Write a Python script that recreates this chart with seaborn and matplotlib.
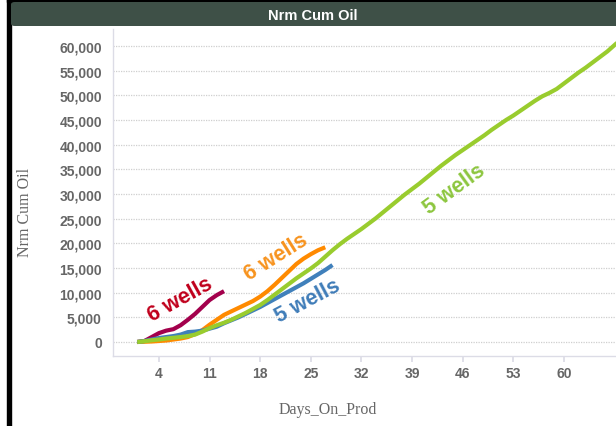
import matplotlib
matplotlib.use("Agg")
import matplotlib.pyplot as plt
from matplotlib.patches import FancyBboxPatch, Rectangle
import seaborn as sns
import pandas as pd

# Normalised cumulative oil by days on production, one curve per well group
days_red = list(range(1, 14))
oil_red = [0, 200, 1000, 1800, 2300, 2600, 3400, 4500, 5700, 7100, 8500, 9500, 10300]

days_orange = list(range(1, 28))
oil_orange = [0, 50, 100, 200, 300, 500, 700, 1000, 1600, 2400, 3500, 4500, 5500,
              6200, 6900, 7600, 8300, 9200, 10300, 11600, 13000, 14400, 15800,
              16900, 17800, 18600, 19200]

days_blue = list(range(1, 29))
oil_blue = [0, 200, 500, 800, 1000, 1200, 1500, 2000, 2100, 2300, 2700, 3100, 3800,
            4400, 5000, 5700, 6400, 7100, 7900, 8700, 9500, 10300, 11100, 11900,
            12800, 13700, 14600, 15600]

days_green = list(range(1, 69))
oil_green = [0, 150, 350, 500, 700, 850, 1000, 1200, 1500, 2100, 2800, 3400, 3900,
             4500, 5200, 5900, 6700, 7500, 8500, 9600, 10700, 11800, 12900, 13900,
             14900, 16000, 17300, 18600, 19800, 20900, 21900, 22900, 24000, 25100,
             26300, 27500, 28700, 29900, 31000, 32100, 33300, 34500, 35700, 36800,
             37900, 38900, 39900, 40900, 41900, 43000, 44000, 45000, 45900, 46900,
             47900, 48900, 49800, 50500, 51300, 52400, 53500, 54600, 55600, 56700,
             57800, 58900, 60200, 61500]

x_ticks = [4, 11, 18, 25, 32, 39, 46, 53, 60]
y_ticks = list(range(0, 60001, 5000))

series = [
    ("red", days_red, oil_red, "#a3004c"),
    ("orange", days_orange, oil_orange, "#ff8a00"),
    ("blue", days_blue, oil_blue, "#4080bb"),
    ("green", days_green, oil_green, "#99cc2e"),
]

# curve labels: (text, day, oil, rotation, colour)
labels = [
    ("6 wells", 6.9, 8700, 29, "#c0001c"),
    ("6 wells", 20.2, 17300, 32, "#f7931e"),
    ("5 wells", 24.6, 8500, 28, "#3f7cb8"),
    ("5 wells", 44.9, 31000, 36, "#8dc63f"),
]

sns.set_theme(style="white")
plt.rcParams["font.family"] = ["Liberation Sans", "DejaVu Sans"]

W, H = 616, 427
fig = plt.figure(figsize=(W / 100, H / 100), dpi=100)
fig.patch.set_facecolor("white")

ax = fig.add_axes([113 / W, 1 - 357 / H, (W - 113) / W, (357 - 30) / H])

for name, d, v, c in series:
    df = pd.DataFrame({"Days_On_Prod": d, "Nrm Cum Oil": v})
    sns.lineplot(data=df, x="Days_On_Prod", y="Nrm Cum Oil", ax=ax, color=c,
                 linewidth=3.0, solid_capstyle="butt", zorder=3)

for text, d, v, rot, c in labels:
    ax.text(d, v, text, rotation=rot, color=c, fontsize=15.5, fontweight="bold",
            ha="center", va="center", rotation_mode="anchor", zorder=4)

ax.set_xlim(-2.35, 67.2)
ax.set_ylim(-2840, 63450)
ax.set_xticks(x_ticks)
ax.set_yticks(y_ticks)
ax.set_yticklabels([f"{t:,}" for t in y_ticks])
ax.set_xticklabels([str(t) for t in x_ticks])
ax.grid(axis="y", color="#cfcfcf", linestyle=(0, (1, 1)), linewidth=0.9)
ax.grid(axis="x", visible=False)

for s in ["top", "right"]:
    ax.spines[s].set_visible(False)
for s in ["left", "bottom"]:
    ax.spines[s].set_color("#dcdce6")
    ax.spines[s].set_linewidth(1.0)

ax.tick_params(axis="x", length=4, color="#dcdce6", pad=3, labelsize=10,
               labelcolor="#666666", bottom=True)
ax.tick_params(axis="y", length=0, pad=8, labelsize=10, labelcolor="#666666")
for lab in ax.get_xticklabels() + ax.get_yticklabels():
    lab.set_fontweight("bold")

ax.set_xlabel("")
ax.set_ylabel("")
fig.text(328 / W, 1 - 410 / H, "Days_On_Prod", family="Liberation Serif",
         color="#666666", fontsize=11.5, ha="center", va="center")
fig.text(25 / W, 1 - 212 / H, "Nrm Cum Oil", family="Liberation Serif",
         color="#666666", fontsize=11.5, ha="center", va="center", rotation=90)

# dark frame edges and header bar
fig.patches.append(Rectangle((7 / W, 0), 4 / W, 1, transform=fig.transFigure,
                             color="black", zorder=5))
fig.patches.append(Rectangle((7 / W, 1 - 3 / H), 1, 3 / H, transform=fig.transFigure,
                             color="black", zorder=5))
fig.patches.append(FancyBboxPatch((11 / W, 1 - 27 / H), (W - 11) / W + 0.02, 24 / H,
                                  boxstyle="round,pad=0,rounding_size=0.006",
                                  transform=fig.transFigure, facecolor="#3e5047",
                                  edgecolor="none", zorder=5))
fig.text(313 / W, 1 - 15.5 / H, "Nrm Cum Oil", color="white", fontsize=10.5,
         fontweight="bold", ha="center", va="center", zorder=6)

fig.savefig("out.png", dpi=100)
